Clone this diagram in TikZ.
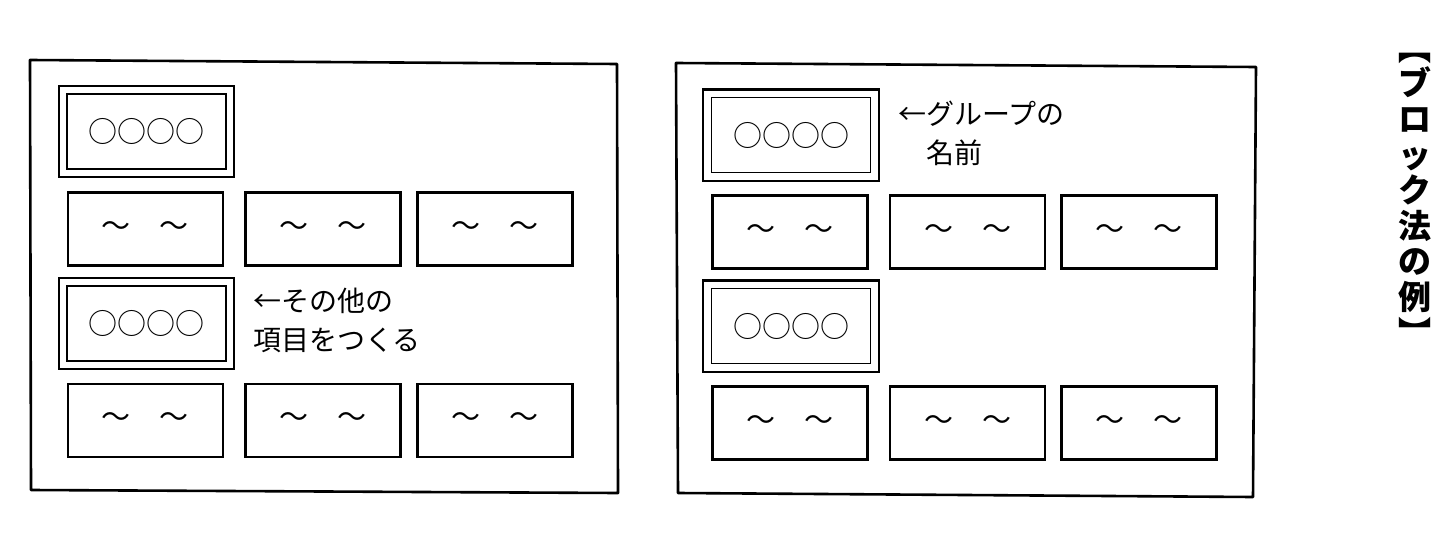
\documentclass[tikz,border=0pt]{standalone}
\usepackage{fontspec}
\newfontfamily\jp{Noto Sans CJK JP}
\begin{document}
\begin{tikzpicture}[x=1pt,y=-1pt,
  frame/.style={line width=2.6pt, line join=round},
  itembox/.style={draw, line width=2.3pt, minimum width=155pt, minimum height=73pt, inner sep=0pt, font=\jp\fontsize{29}{29}\selectfont},
  headbox/.style={draw, line width=1.5pt, minimum width=159pt, minimum height=75pt, inner sep=0pt, font=\jp\fontsize{29}{29}\selectfont},
  headouter/.style={line width=2.4pt},
  note/.style={align=left, anchor=west, inner sep=0pt, font=\jp\fontsize{28}{39}\selectfont},
  titletext/.style={align=center, inner sep=0pt, font=\jp\bfseries\fontsize{33}{35.6}\selectfont}]
\useasboundingbox (0,0) rectangle (1452,554);
\fill[white] (0,0) rectangle (1452,554);

% frames
\draw[frame] (30,60) -- (617,64) -- (618,493) -- (31,490) -- cycle;
\draw[frame] (676,63) -- (1256,67) -- (1253,497) -- (678,493) -- cycle;

% left panel
\node[headbox] (lh1) at (146.5,131.5) {○○○○};
\draw[headouter] ([shift={(-7.5,-7.5)}]lh1.north west) rectangle ([shift={(7.5,7.5)}]lh1.south east);
\node[itembox] (la1) at (145.3,229) {～　～};
\node[itembox] (la2) at (323,229) {～　～};
\node[itembox] (la3) at (495,229) {～　～};
\node[headbox] (lh2) at (146.5,323.5) {○○○○};
\draw[headouter] ([shift={(-7.5,-7.5)}]lh2.north west) rectangle ([shift={(7.5,7.5)}]lh2.south east);
\node[note] (lnote) at (253,320.5) {←その他の\\項目をつくる};
\node[itembox] (lb1) at (145.3,420.3) {～　～};
\node[itembox] (lb2) at (323,420.3) {～　～};
\node[itembox] (lb3) at (495,420.3) {～　～};

% right panel
\node[headbox] (rh1) at (791,135.2) {○○○○};
\draw[headouter] ([shift={(-7.5,-7.5)}]rh1.north west) rectangle ([shift={(7.5,7.5)}]rh1.south east);
\node[note] (rnote) at (898,133) {←グループの\\　名前};
\node[itembox] (ra1) at (790,232) {～　～};
\node[itembox] (ra2) at (967.5,232) {～　～};
\node[itembox] (ra3) at (1139,232) {～　～};
\node[headbox] (rh2) at (791,326.2) {○○○○};
\draw[headouter] ([shift={(-7.5,-7.5)}]rh2.north west) rectangle ([shift={(7.5,7.5)}]rh2.south east);
\node[itembox] (rb1) at (790,423) {～　～};
\node[itembox] (rb2) at (967.5,423) {～　～};
\node[itembox] (rb3) at (1139,423) {～　～};

% title
\node[titletext] (title) at (1415,199) {︻\\ブ\\ロ\\ッ\\ク\\法\\の\\例\\︼};
\end{tikzpicture}
\end{document}
